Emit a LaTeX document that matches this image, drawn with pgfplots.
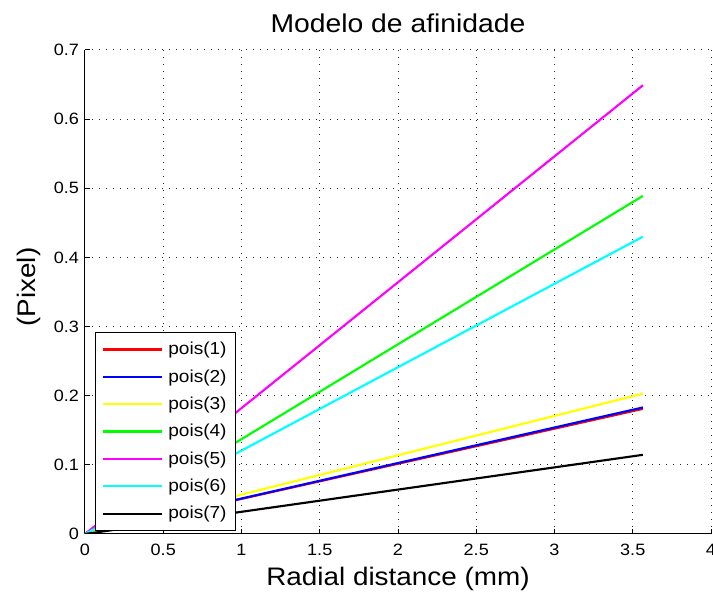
\documentclass[border=0pt]{standalone}
\usepackage{pgfplots}
\pgfplotsset{compat=1.18}
\usepackage{fontspec}
\setmainfont{Liberation Sans}[FakeStretch=1.1]
\definecolor{mred}{rgb}{1,0,0}
\definecolor{mblue}{rgb}{0,0,1}
\definecolor{myellow}{rgb}{1,1,0}
\definecolor{mgreen}{rgb}{0,1,0}
\definecolor{mmagenta}{rgb}{1,0,1}
\definecolor{mcyan}{rgb}{0,1,1}
\begin{document}
\begin{tikzpicture}
\begin{axis}[
  scale only axis,
  at={(0,0)}, anchor=south west,
  width=469.5pt, height=363pt,
  xmin=0, xmax=4, ymin=0, ymax=0.7,
  axis x line*=bottom, axis y line*=left,
  axis line style={black, line width=0.75pt},
  tick align=inside,
  major tick length=3.75pt,
  tick style={black, line width=0.75pt},
  xtick={0,0.5,1,1.5,2,2.5,3,3.5,4},
  xticklabels={0,0.5,1,1.5,2,2.5,3,3.5,4},
  ytick={0,0.1,0.2,0.3,0.4,0.5,0.6,0.7},
  yticklabels={0,0.1,0.2,0.3,0.4,0.5,0.6,0.7},
  /pgf/number format/assume math mode=true,
  ticklabel style={font=\fontsize{12.3}{14}\selectfont},
  xticklabel style={yshift=-4pt},
  yticklabel style={xshift=-1pt},
  grid=major,
  major grid style={black!85, line width=0.75pt, dash pattern=on 0.75pt off 4.5pt},
  title={Modelo de afinidade},
  title style={font=\fontsize{19.3}{22}\selectfont, at={(axis description cs:0.5,1)}, anchor=base, yshift=7pt},
  xlabel={Radial distance (mm)},
  xlabel style={font=\fontsize{19}{22}\selectfont, at={(axis description cs:0.5,0)}, anchor=base, yshift=-39pt},
  ylabel={(Pixel)},
  ylabel style={font=\fontsize{19}{22}\selectfont, at={(axis description cs:-0.0895,0.51)}, anchor=center},
  legend style={
    at={(axis description cs:0.016,0.418)}, anchor=north west,
    draw=black, line width=0.75pt, fill=white,
    font=\fontsize{13}{15}\selectfont,
    inner xsep=5pt, inner ysep=5.5pt,
    row sep=5.6pt,
    cells={anchor=west},
    /tikz/every odd column/.append style={column sep=2pt},
  },
  legend image code/.code={\draw[#1, line width=1.6pt] (0pt,0pt) -- (44pt,0pt);},
  legend cell align=left,
]
\addplot[mred, line width=1.6pt] coordinates {(0,0) (3.565,0.181)};
\addlegendentry{pois(1)}
\addplot[mblue, line width=1.6pt] coordinates {(0,0) (3.565,0.183)};
\addlegendentry{pois(2)}
\addplot[myellow, line width=1.6pt] coordinates {(0,0) (3.565,0.203)};
\addlegendentry{pois(3)}
\addplot[mgreen, line width=1.6pt] coordinates {(0,0) (3.565,0.489)};
\addlegendentry{pois(4)}
\addplot[mmagenta, line width=1.6pt] coordinates {(0,0) (3.565,0.649)};
\addlegendentry{pois(5)}
\addplot[mcyan, line width=1.6pt] coordinates {(0,0) (3.565,0.430)};
\addlegendentry{pois(6)}
\addplot[black, line width=1.6pt] coordinates {(0,0) (3.565,0.1145)};
\addlegendentry{pois(7)}
\end{axis}
\pgfresetboundingbox
\useasboundingbox (-63.75pt,-48pt) rectangle (471pt,400.5pt);
\end{tikzpicture}
\end{document}
